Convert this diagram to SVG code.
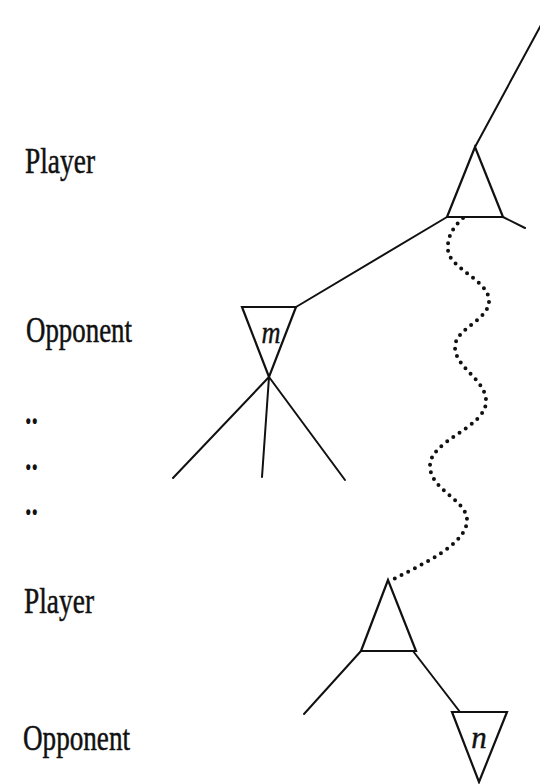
<svg xmlns="http://www.w3.org/2000/svg" width="540" height="784" viewBox="0 0 540 784">
<style>
.ln{stroke:#111;stroke-width:2;fill:none;stroke-linejoin:round;stroke-linecap:round}
.tri{stroke:#111;stroke-width:2.2;fill:#fff;stroke-linejoin:miter}
.lbl{font-family:"Liberation Serif","Times New Roman",serif;font-size:36px;fill:#111;stroke:#111;stroke-width:0.5}
.dots{font-family:"Liberation Serif","Times New Roman",serif;font-size:36px;font-weight:bold;fill:#111}
.var{font-family:"Liberation Serif","Times New Roman",serif;font-style:italic;font-size:31px;fill:#111;text-anchor:middle;stroke:#111;stroke-width:0.4}
.wavy{stroke:#111;stroke-width:4;fill:none;stroke-linecap:round;stroke-dasharray:0 7.5}
</style>
<rect width="540" height="784" fill="#fff"/>
<g id="labels">
<text class="lbl" x="25" y="173" textLength="70" lengthAdjust="spacingAndGlyphs">Player</text>
<text class="lbl" x="26" y="342" textLength="106" lengthAdjust="spacingAndGlyphs">Opponent</text>
<text class="dots" x="25" y="424" textLength="13" lengthAdjust="spacingAndGlyphs">..</text>
<text class="dots" x="25" y="470" textLength="13" lengthAdjust="spacingAndGlyphs">..</text>
<text class="dots" x="25" y="515" textLength="13" lengthAdjust="spacingAndGlyphs">..</text>
<text class="lbl" x="24" y="613" textLength="70" lengthAdjust="spacingAndGlyphs">Player</text>
<text class="lbl" x="23" y="750" textLength="107" lengthAdjust="spacingAndGlyphs">Opponent</text>
</g>
<g id="connectors">
<line class="ln" x1="475" y1="147" x2="548" y2="12"/>
<line class="ln" x1="503" y1="217" x2="525" y2="228"/>
<line class="ln" x1="447" y1="217" x2="296" y2="307"/>
<line class="ln" x1="269" y1="377" x2="173" y2="478"/>
<line class="ln" x1="269" y1="377" x2="262" y2="477"/>
<line class="ln" x1="269" y1="377" x2="345" y2="480"/>
<line class="ln" x1="361" y1="651" x2="304" y2="714"/>
<line class="ln" x1="413" y1="651" x2="460" y2="712"/>
<path class="wavy" d="M463,218 C452,228 447,238 448,250 C449,268 488,280 489,300 C490,320 455,328 455,347 C455,368 487,380 486,402 C485,428 430,440 430,466 C430,490 467,500 467,520 C467,545 420,565 392,580"/>
</g>
<g id="player-top">
<polygon class="tri" points="475,147 447,217 503,217"/>
</g>
<g id="opponent-m">
<polygon class="tri" points="242,307 296,307 269,377"/>
<text class="var" x="271" y="343" transform="translate(271,0) scale(0.85,1) translate(-271,0)">m</text>
</g>
<g id="player-bottom">
<polygon class="tri" points="388,580 361,651 416,651"/>
</g>
<g id="opponent-n">
<polygon class="tri" points="452,712 507,712 479,782"/>
<text class="var" x="479" y="748">n</text>
</g>
</svg>
